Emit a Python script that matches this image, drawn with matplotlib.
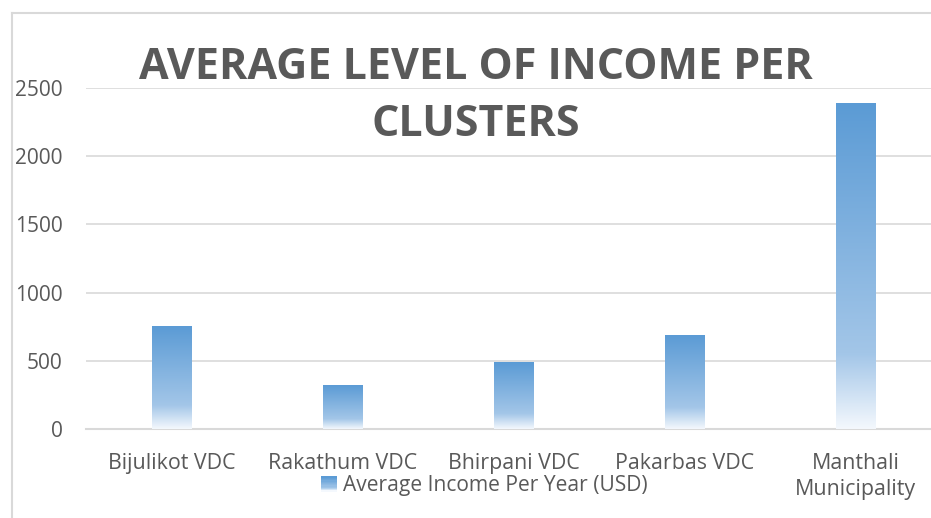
import numpy as np
import matplotlib
matplotlib.use("Agg")
import matplotlib.pyplot as plt
from matplotlib.colors import LinearSegmentedColormap
from matplotlib.legend_handler import HandlerBase
from matplotlib.patches import Rectangle
from matplotlib.lines import Line2D

# data
clusters = ["Bijulikot VDC", "Rakathum VDC", "Bhirpani VDC", "Pakarbas VDC",
            "Manthali\nMunicipality"]
income = [755, 322, 491, 682, 2383]
series_name = "Average Income Per Year (USD)"
y_ticks = [0, 500, 1000, 1500, 2000, 2500]

plt.rcParams['font.family'] = ['Open Sans', 'DejaVu Sans']
text_grey = '#595959'
grid_grey = '#d9d9d9'

# Excel-like gradient: strong blue at top, fading to white near the base
grad = LinearSegmentedColormap.from_list(
    'bar_grad', [(0.0, '#f4f8fd'), (0.23, '#a3c6e8'), (1.0, '#5b9bd5')])


class GradientHandler(HandlerBase):
    def create_artists(self, legend, orig_handle, xdescent, ydescent,
                       width, height, fontsize, trans):
        n = 12
        size = min(width, height * 1.1)
        x0 = xdescent + (width - size)
        parts = []
        for i in range(n):
            r = Rectangle((x0, -ydescent + height * i / n), size, height / n + 0.3,
                          facecolor=grad(i / (n - 1)), edgecolor='none',
                          transform=trans)
            parts.append(r)
        return parts


fig = plt.figure(figsize=(9.31, 5.18), dpi=100)
ax = fig.add_axes([86 / 931, 1 - 429 / 518, 855 / 931, 341 / 518])

x = np.arange(len(clusters))
bar_w = 0.23
bars = ax.bar(x, income, width=bar_w, color='none', edgecolor='none', zorder=3)
gradient = np.linspace(0, 1, 256).reshape(-1, 1)
for b in bars:
    bx, by = b.get_x(), b.get_y()
    ax.imshow(gradient, cmap=grad, origin='lower', aspect='auto',
              extent=[bx, bx + b.get_width(), by, by + b.get_height()],
              zorder=3, interpolation='bicubic')

ax.set_xlim(-0.5, len(clusters) - 0.5)
ax.set_ylim(0, 2500)
ax.set_yticks(y_ticks)
ax.set_xticks(x)
ax.set_xticklabels(clusters, linespacing=1.35)
ax.tick_params(axis='y', length=0, pad=17, labelsize=15, labelcolor=text_grey)
ax.tick_params(axis='x', length=0, pad=17, labelsize=15.4, labelcolor=text_grey)
ax.grid(axis='y', color=grid_grey, linewidth=1.2, zorder=0)
for s in ['top', 'right', 'left']:
    ax.spines[s].set_visible(False)
ax.spines['bottom'].set_color(grid_grey)
ax.spines['bottom'].set_linewidth(1.5)

# title, overlapping the plot area like the original
fig.text(476 / 931, 1 - 96 / 518, "AVERAGE LEVEL OF INCOME PER\nCLUSTERS",
         ha='center', va='center', fontsize=31, fontweight='bold',
         color=text_grey, linespacing=1.42)

leg = fig.legend([Rectangle((0, 0), 1, 1)], [series_name],
                 handler_map={Rectangle: GradientHandler()},
                 loc='center', bbox_to_anchor=(484 / 931, 1 - 486 / 518),
                 frameon=False, fontsize=15.1, handlelength=0.8,
                 handletextpad=0.3, borderpad=0)
for t in leg.get_texts():
    t.set_color(text_grey)

# chart border (left and top visible in the cropped original)
fig.add_artist(Line2D([11.5 / 931, 11.5 / 931], [0, 1 - 13 / 518],
                      transform=fig.transFigure, color=grid_grey, lw=1.5))
fig.add_artist(Line2D([11.5 / 931, 1], [1 - 13 / 518, 1 - 13 / 518],
                      transform=fig.transFigure, color=grid_grey, lw=1.5))

fig.savefig('out.png', dpi=100)
